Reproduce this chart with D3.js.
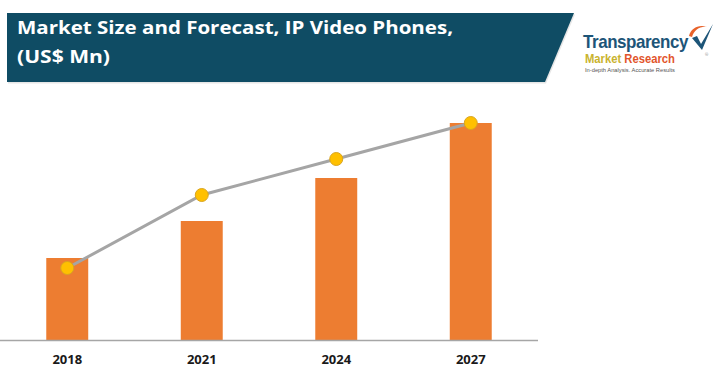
<!DOCTYPE html>
<html>
<head>
<meta charset="utf-8">
<script src="https://cdn.jsdelivr.net/npm/d3@7"></script>
<style>
  body { margin: 0; background: #fff; }
  svg { display: block; font-family: "Open Sans", "Liberation Sans", sans-serif; }
</style>
</head>
<body>
<svg id="chart" width="719" height="383"></svg>
<script>
// chart values
const years = ['2018', '2021', '2024', '2027'];
const marketSize = [82, 119, 162, 217];
const trendLine = [72, 145, 181, 217];
const titleLines = ['Market Size and Forecast, IP Video Phones,', '(US$ Mn)'];

const width = 719;
const height = 383;
const plotLeft = 0;
const plotRight = 538;
const baseY = 340;

const svg = d3.select('#chart');

// title banner
svg.append('path')
  .attr('d', 'M7,13 L574,13 L545,82 L7,82 Z')
  .attr('fill', '#e6e6e6')
  .attr('transform', 'translate(1,1.5)');
svg.append('path')
  .attr('d', 'M7,13 L574,13 L545,82 L7,82 Z')
  .attr('fill', '#0f4c64');

const titleW = [436, 93];
svg.selectAll('text.title')
  .data(titleLines)
  .enter().append('text')
  .attr('class', 'title')
  .attr('x', 17)
  .attr('y', (d, i) => 33.5 + i * 29.5)
  .attr('fill', '#fff')
  .attr('font-size', 18.5)
  .attr('font-weight', 700)
  .attr('textLength', (d, i) => titleW[i])
  .attr('lengthAdjust', 'spacingAndGlyphs')
  .text(d => d);

// logo
const logo = svg.append('g');
logo.append('text')
  .attr('x', 583).attr('y', 48)
  .attr('font-family', 'Liberation Sans, Arial, sans-serif')
  .attr('font-size', 19).attr('font-weight', 700)
  .attr('fill', '#1d5578')
  .attr('textLength', 105).attr('lengthAdjust', 'spacingAndGlyphs')
  .attr('letter-spacing', -0.5)
  .text('Transparency');
const mr = logo.append('text')
  .attr('x', 585).attr('y', 63)
  .attr('font-family', 'Liberation Sans, Arial, sans-serif')
  .attr('font-size', 12).attr('font-weight', 700)
  .attr('textLength', 90).attr('lengthAdjust', 'spacingAndGlyphs');
mr.append('tspan').attr('fill', '#c9b32e').text('Market ');
mr.append('tspan').attr('fill', '#e2552c').text('Research');
logo.append('text')
  .attr('x', 585).attr('y', 72)
  .attr('font-family', 'Liberation Sans, Arial, sans-serif')
  .attr('font-size', 5.5)
  .attr('fill', '#555')
  .attr('textLength', 90).attr('lengthAdjust', 'spacingAndGlyphs')
  .text('In-depth Analysis. Accurate Results');
// check mark icon
logo.append('path')
  .attr('d', 'M689,36 C691,28 699,24 707,27 C700,26 694,30 692,37 Z')
  .attr('fill', '#e8622a');
logo.append('path')
  .attr('d', 'M692,38 L697,36 L701,44 L713,24 L702,50 Z')
  .attr('fill', '#1d5578');
logo.append('text')
  .attr('x', 705).attr('y', 56)
  .attr('font-size', 4).attr('fill', '#888')
  .text('®');

// scales
const x = d3.scaleBand()
  .domain(years)
  .range([plotLeft, plotRight])
  .paddingInner(0.688)
  .paddingOuter(0.344);

const y = d3.scaleLinear()
  .domain([0, 250])
  .range([baseY, baseY - 250]);

// bars
svg.selectAll('rect.bar')
  .data(marketSize)
  .enter().append('rect')
  .attr('class', 'bar')
  .attr('x', (d, i) => x(years[i]))
  .attr('y', d => y(d))
  .attr('width', x.bandwidth())
  .attr('height', d => y(0) - y(d))
  .attr('fill', '#ed7d31');

// x axis
const xAxis = d3.axisBottom(x).tickSize(0).tickPadding(15);
const axisG = svg.append('g')
  .attr('transform', `translate(0,${baseY})`)
  .call(xAxis);
axisG.select('.domain')
  .attr('d', `M${plotLeft},0.5H${plotRight}`)
  .attr('stroke', '#a6a6a6')
  .attr('stroke-width', 1.5);
axisG.selectAll('text')
  .attr('font-family', '"Open Sans", sans-serif')
  .attr('font-size', 13)
  .attr('font-weight', 700)
  .attr('fill', '#1a1a1a');

// trend line
const line = d3.line()
  .x((d, i) => x(years[i]) + x.bandwidth() / 2)
  .y(d => y(d));

svg.append('path')
  .datum(trendLine)
  .attr('d', line)
  .attr('fill', 'none')
  .attr('stroke', '#a5a5a5')
  .attr('stroke-width', 3);

svg.selectAll('circle.pt')
  .data(trendLine)
  .enter().append('circle')
  .attr('class', 'pt')
  .attr('cx', (d, i) => x(years[i]) + x.bandwidth() / 2)
  .attr('cy', d => y(d))
  .attr('r', 6.5)
  .attr('fill', '#ffc000')
  .attr('stroke', '#d9a520')
  .attr('stroke-width', 1);
</script>
</body>
</html>
